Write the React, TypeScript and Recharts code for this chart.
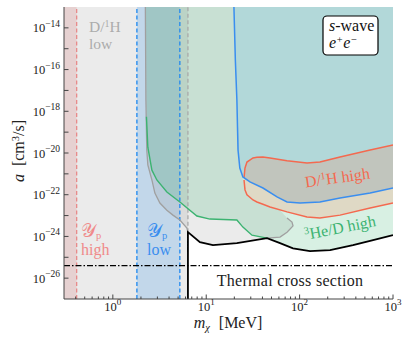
import { ComposedChart, Area, Line, XAxis, YAxis } from "recharts";

const X_MIN = 0.3;
const X_MAX = 1000;
const Y_MIN = 1e-27;
const Y_MAX = 1e-13;

// axis ticks
const xTicks = [
  0.4, 0.5, 0.6, 0.7, 0.8, 0.9, 1, 2, 3, 4, 5, 6, 7, 8, 9, 10, 20, 30, 40, 50, 60, 70, 80, 90,
  100, 200, 300, 400, 500, 600, 700, 800, 900, 1000,
];
const yTicks = [
  1e-26, 1e-25, 1e-24, 1e-23, 1e-22, 1e-21, 1e-20, 1e-19, 1e-18, 1e-17, 1e-16, 1e-15, 1e-14,
];

// vertical bands / limits [MeV]
const ypHighBand = [X_MIN, 0.41];
const ypLowBand = [1.81, 5.22];
const dhLowBand = [X_MIN, 6.37];
const thermalXs = 4e-26;

// D/1H low, curved part
const grayMass = [
  2.23, 2.26, 2.31, 2.37, 2.62, 2.82, 3.19, 3.79, 4.4, 5.22, 6.21, 6.37, 8.56, 11.8, 19.8, 21.3,
  22.9, 24.7, 27.3, 34.9, 44.8, 61.7, 73.3, 80.9, 85.0,
];
const grayLow = [
  1e-13, 3.5e-18, 1.4e-20, 2.7e-21, 5.1e-22, 1.2e-22, 4.0e-23, 1.8e-23, 1.05e-23, 6.1e-24,
  2.5e-24, 1.6e-24, 5.3e-25, 3.8e-25, 4.5e-25, 4.8e-25, 5.3e-25, 5.6e-25, 5.9e-25, 7.0e-25,
  8.3e-25, 9.3e-25, 1.6e-24, 2.2e-24, 3.2e-24,
];
const grayHigh = [
  1e-13, 1e-13, 1e-13, 1e-13, 1e-13, 1e-13, 1e-13, 1e-13, 1e-13, 1e-13, 1e-13, 1e-13, 1e-13,
  1e-13, 1e-13, 3.5e-18, 1.9e-21, 7.1e-22, 9.8e-23, 4.5e-23, 2.9e-23, 1.8e-23, 7.6e-24, 5.5e-24,
  3.9e-24,
];
const grayBumpMass = [44.8, 61.7, 73.3, 85.0, 82.9, 73.3];
const grayBumpA = [8.3e-25, 9.3e-25, 1.6e-24, 3.2e-24, 4.9e-24, 7.6e-24];

// 3He/D high
const greenMass = [
  2.26, 2.29, 2.37, 2.62, 2.96, 3.79, 5.22, 7.95, 10.95, 21.3, 24.7, 30.9, 44.8, 61.7, 85.0, 129,
  212, 373, 612, 1000,
];
const greenLow = [
  1e-13, 5.5e-19, 1.9e-20, 1.5e-21, 5.1e-22, 1.35e-22, 4.5e-23, 9.5e-24, 6.8e-24, 6.1e-24,
  2.8e-24, 1.15e-24, 8.3e-25, 4.8e-25, 2.7e-25, 1.96e-25, 2.2e-25, 3.8e-25, 6.6e-25, 1.15e-24,
];
const greenEdgeCount = 13;

// blue solid constraint
const blueMass = [19.8, 20.5, 21.3, 21.9, 22.9, 24.7, 29.4, 40.5, 57.3, 73.3, 101, 165, 271, 569, 1000];
const blueLow = [
  1e-13, 3.0e-16, 3.5e-18, 1.4e-20, 1.9e-21, 7.1e-22, 4.1e-22, 2.1e-22, 7.8e-23, 4.5e-23, 4.0e-23,
  4.5e-23, 6.9e-23, 1.2e-22, 2.1e-22,
];

// D/1H high
const orangeMass = [25.4, 26.0, 27.3, 31.7, 34.9, 40.5, 48.2, 73.3, 120, 165, 271, 569, 1000];
const orangeLow = [
  5.1e-22, 1.7e-22, 9.8e-23, 5.6e-23, 4.5e-23, 3.5e-23, 2.6e-23, 1.5e-23, 8.5e-24, 7.6e-24,
  1.05e-23, 2.3e-23, 4.0e-23,
];
const orangeHigh = [
  6.3e-22, 1.9e-21, 3.7e-21, 5.8e-21, 6.2e-21, 6.5e-21, 5.8e-21, 4.2e-21, 3.3e-21, 3.7e-21,
  6.5e-21, 1.4e-20, 2.4e-20,
];

// combined bound
const blackMass = [6.37, 6.37, 8.56, 11.8, 21.3, 44.8, 61.7, 85.0, 129, 212, 373, 612, 1000];
const blackA = [
  1e-27, 1.6e-24, 5.3e-25, 3.8e-25, 4.8e-25, 8.3e-25, 4.8e-25, 2.7e-25, 1.96e-25, 2.2e-25, 3.8e-25,
  6.6e-25, 1.15e-24,
];

const band = ([lo, hi]: number[]) => [
  { m: lo, v: [Y_MIN, Y_MAX] },
  { m: hi, v: [Y_MIN, Y_MAX] },
];
const range = (ms: number[], lo: number[], hi: number[] | number) =>
  ms.map((m, i) => ({ m, v: [lo[i], Array.isArray(hi) ? hi[i] : hi] }));
const curve = (ms: number[], as: number[]) => ms.map((m, i) => ({ m, a: as[i] }));
const vline = (m: number, lo = Y_MIN, hi = Y_MAX) => [
  { m, a: lo },
  { m, a: hi },
];

const grayRegion = range(grayMass, grayLow, grayHigh);
const greenRegion = range(greenMass, greenLow, Y_MAX);
const blueRegion = range(blueMass, blueLow, Y_MAX);
const orangeRegion = range(orangeMass, orangeLow, orangeHigh);

const serif = "'Liberation Serif', 'DejaVu Serif', serif";
const axisColor = "#444";

const isMajor = (v: number) => Math.abs(Math.log10(v) - Math.round(Math.log10(v))) < 1e-6;
const expText = (v: number) => {
  const e = Math.round(Math.log10(v));
  return e < 0 ? `\u2212${-e}` : `${e}`;
};

function BottomTick({ x, y, payload }: any) {
  const major = isMajor(payload.value);
  return (
    <g>
      <line x1={x} x2={x} y1={y} y2={y - (major ? 4.5 : 2.5)} stroke={axisColor} />
      {major && (
        <text x={x} y={y + 11.5} textAnchor="middle" fontFamily={serif} fontSize={12.5} fill="#222">
          10
          <tspan dy={-5.5} fontSize={9}>
            {expText(payload.value)}
          </tspan>
        </text>
      )}
    </g>
  );
}

function TopTick({ x, y, payload }: any) {
  const major = isMajor(payload.value);
  return <line x1={x} x2={x} y1={y} y2={y + (major ? 4.5 : 2.5)} stroke={axisColor} />;
}

function LeftTick({ x, y, payload }: any) {
  const e = Math.round(Math.log10(payload.value));
  return (
    <g>
      <line x1={x} x2={x + 4.5} y1={y} y2={y} stroke={axisColor} />
      {e % 2 === 0 && (
        <text x={x - 4} y={y + 4.5} textAnchor="end" fontFamily={serif} fontSize={12.5} fill="#222">
          10
          <tspan dy={-5.5} fontSize={9.5}>
            {expText(payload.value)}
          </tspan>
        </text>
      )}
    </g>
  );
}

function RightTick({ x, y }: any) {
  return <line x1={x} x2={x - 4.5} y1={y} y2={y} stroke={axisColor} />;
}

export default function App() {
  return (
    <div style={{ position: "absolute", left: 0, top: 0, width: 411, height: 344, background: "#fff" }}>
      <ComposedChart width={411} height={344} margin={{ top: 7, right: 18, bottom: 0, left: 0 }}>
        <XAxis
          dataKey="m"
          type="number"
          scale="log"
          domain={[X_MIN, X_MAX]}
          allowDataOverflow
          ticks={xTicks}
          interval={0}
          height={45}
          tickSize={0}
          tickMargin={0}
          tick={<BottomTick />}
          axisLine={{ stroke: axisColor }}
        />
        <XAxis
          xAxisId="top"
          orientation="top"
          dataKey="m"
          type="number"
          scale="log"
          domain={[X_MIN, X_MAX]}
          allowDataOverflow
          ticks={xTicks}
          interval={0}
          height={0}
          tickSize={0}
          tickMargin={0}
          tick={<TopTick />}
          axisLine={{ stroke: axisColor }}
        />
        <YAxis
          type="number"
          scale="log"
          domain={[Y_MIN, Y_MAX]}
          allowDataOverflow
          ticks={yTicks}
          interval={0}
          width={64}
          tickSize={0}
          tickMargin={0}
          tick={<LeftTick />}
          axisLine={{ stroke: axisColor }}
        />
        <YAxis
          yAxisId="right"
          orientation="right"
          type="number"
          scale="log"
          domain={[Y_MIN, Y_MAX]}
          allowDataOverflow
          ticks={yTicks}
          interval={0}
          width={0}
          tickSize={0}
          tickMargin={0}
          tick={<RightTick />}
          axisLine={{ stroke: axisColor }}
        />

        <Area data={band(dhLowBand)} dataKey="v" type="linear" fill="#999999" fillOpacity={0.2} stroke="none" isAnimationActive={false} />
        <Area data={band(ypHighBand)} dataKey="v" type="linear" fill="#cc3b3b" fillOpacity={0.15} stroke="none" isAnimationActive={false} />
        <Area data={band(ypLowBand)} dataKey="v" type="linear" fill="#1e88e5" fillOpacity={0.2} stroke="none" isAnimationActive={false} />
        <Area data={grayRegion} dataKey="v" type="linear" fill="#999999" fillOpacity={0.2} stroke="none" isAnimationActive={false} />
        <Area data={greenRegion} dataKey="v" type="linear" fill="#3cb371" fillOpacity={0.2} stroke="none" isAnimationActive={false} />
        <Area data={blueRegion} dataKey="v" type="linear" fill="#1f77b4" fillOpacity={0.2} stroke="none" isAnimationActive={false} />
        <Area data={orangeRegion} dataKey="v" type="linear" fill="#ff7f50" fillOpacity={0.2} stroke="#f4694f" strokeWidth={1.5} isAnimationActive={false} />

        <Line data={vline(ypHighBand[1])} dataKey="a" stroke="#e88a8a" strokeWidth={1.3} strokeDasharray="4 2.5" dot={false} isAnimationActive={false} />
        <Line data={vline(ypLowBand[0])} dataKey="a" stroke="#1e88f0" strokeWidth={1.3} strokeDasharray="4 2.5" dot={false} isAnimationActive={false} />
        <Line data={vline(ypLowBand[1])} dataKey="a" stroke="#1e88f0" strokeWidth={1.3} strokeDasharray="4 2.5" dot={false} isAnimationActive={false} />
        <Line data={vline(dhLowBand[1], blackA[1])} dataKey="a" stroke="#aaaaaa" strokeWidth={1.3} strokeDasharray="4 2.5" dot={false} isAnimationActive={false} />

        <Line data={curve(grayMass.slice(0, 12), grayLow.slice(0, 12))} dataKey="a" type="linear" stroke="#a0a0a0" strokeWidth={1.3} dot={false} isAnimationActive={false} />
        <Line data={curve(grayBumpMass, grayBumpA)} dataKey="a" type="linear" stroke="#a0a0a0" strokeWidth={1.3} dot={false} isAnimationActive={false} />
        <Line data={curve(greenMass.slice(1, greenEdgeCount), greenLow.slice(1, greenEdgeCount))} dataKey="a" type="linear" stroke="#3cb371" strokeWidth={1.4} dot={false} isAnimationActive={false} />
        <Line data={curve(blueMass, blueLow)} dataKey="a" type="linear" stroke="#3a8eef" strokeWidth={1.5} dot={false} isAnimationActive={false} />
        <Line data={curve(blackMass, blackA)} dataKey="a" type="linear" stroke="#000" strokeWidth={1.8} dot={false} isAnimationActive={false} />
        <Line data={[{ m: X_MIN, a: thermalXs }, { m: X_MAX, a: thermalXs }]} dataKey="a" stroke="#000" strokeWidth={1.3} strokeDasharray="6 2 1.5 2" dot={false} isAnimationActive={false} />
      </ComposedChart>

      <svg width={411} height={344} style={{ position: "absolute", left: 0, top: 0, pointerEvents: "none" }} fontFamily={serif}>
        <text x={89} y={32} fontSize={15.5} fill="#acacac">
          D/<tspan dy={-5.5} fontSize={10}>1</tspan>
          <tspan dy={5.5}>H</tspan>
        </text>
        <text x={89} y={49} fontSize={15.5} fill="#acacac">low</text>

        <text x={81} y={237} fontSize={19} fill="#f08a8a">
          <tspan fontFamily="'DejaVu Sans', serif">{"\u{1D4B4}"}</tspan>
          <tspan dy={2} fontSize={10.5}>p</tspan>
        </text>
        <text x={81} y={255} fontSize={16} fill="#f08a8a">high</text>

        <text x={147} y={237} fontSize={19} fill="#3a8eef">
          <tspan fontFamily="'DejaVu Sans', serif">{"\u{1D4B4}"}</tspan>
          <tspan dy={2} fontSize={10.5}>p</tspan>
        </text>
        <text x={147} y={255} fontSize={16} fill="#3a8eef">low</text>

        <text transform="translate(338,183) rotate(-8)" textAnchor="middle" fontSize={16} fill="#f4694f">
          D/<tspan dy={-5.5} fontSize={10.5}>1</tspan>
          <tspan dy={5.5}>H high</tspan>
        </text>
        <text transform="translate(341,233) rotate(-11)" textAnchor="middle" fontSize={16} fill="#3cb371">
          <tspan dy={-5.5} fontSize={10.5}>3</tspan>
          <tspan dy={5.5}>He/D high</tspan>
        </text>

        <text x={290} y={286} textAnchor="middle" fontSize={16} letterSpacing={0.3} fill="#222">
          Thermal cross section
        </text>

        <rect x={323} y={16} width={55} height={39} rx={4} fill="#fff" stroke="#000" strokeWidth={1.2} />
        <text x={329} y={31} fontSize={16} fill="#111">
          <tspan fontStyle="italic">s</tspan>-wave
        </text>
        <text x={329} y={48} fontSize={16} fill="#111" fontStyle="italic">
          e<tspan dy={-5} fontSize={10.5}>+</tspan>
          <tspan dy={5}>e</tspan>
          <tspan dy={-5} fontSize={10.5}>{"\u2212"}</tspan>
        </text>

        <text transform="translate(24,151) rotate(-90)" textAnchor="middle" fontSize={16} fill="#222">
          <tspan fontStyle="italic">a</tspan>
          <tspan dx={8}>[cm</tspan>
          <tspan dy={-5.5} fontSize={10.5}>3</tspan>
          <tspan dy={5.5}>/s]</tspan>
        </text>
        <text x={228} y={328} textAnchor="middle" fontSize={16} fill="#222">
          <tspan fontStyle="italic">m</tspan>
          <tspan dy={3} fontSize={10.5} fontStyle="italic">{"\u03C7"}</tspan>
          <tspan dy={-3} dx={9}>[MeV]</tspan>
        </text>
      </svg>
    </div>
  );
}
